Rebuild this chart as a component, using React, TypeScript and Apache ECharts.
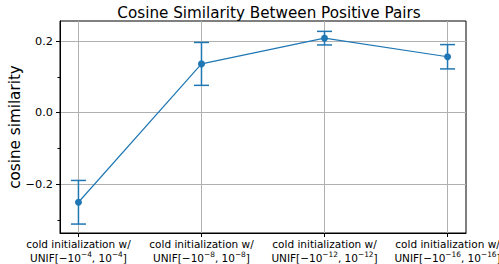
import React, { useEffect, useRef } from "react";
import * as echarts from "echarts";

const categories = [
  "cold initialization w/\n{n|UNIF[−10}{s|−4}{n|, 10}{s|−4}{n|]}",
  "cold initialization w/\n{n|UNIF[−10}{s|−8}{n|, 10}{s|−8}{n|]}",
  "cold initialization w/\n{n|UNIF[−10}{s|−12}{n|, 10}{s|−12}{n|]}",
  "cold initialization w/\n{n|UNIF[−10}{s|−16}{n|, 10}{s|−16}{n|]}",
];
const means = [-0.251, 0.136, 0.208, 0.156];
const errors = [0.061, 0.06, 0.019, 0.034];
const yTicks = [-0.2, 0, 0.2];
const yMinorTicks = [-0.3, -0.1, 0.1];

const BLUE = "#1f77b4";
const FONT = "DejaVu Sans";

export default function App() {
  const ref = useRef<HTMLDivElement>(null);
  useEffect(() => {
    if (!ref.current) return;
    const chart = echarts.init(ref.current, undefined, { renderer: "svg" });
    const xs = categories.map((_, i) => i);
    const option: any = {
      animation: false,
      backgroundColor: "#ffffff",
      title: {
        text: "Cosine Similarity Between Positive Pairs",
        left: 264,
        textAlign: "center",
        top: 0,
        textStyle: { fontFamily: FONT, fontSize: 15.2, fontWeight: "normal", color: "#000" },
      },
      grid: {
        left: 60,
        right: 33,
        top: 21,
        bottom: 31,
        show: true,
        borderColor: "#000",
        borderWidth: 1,
        backgroundColor: "transparent",
        outerBoundsMode: "none",
        containLabel: false,
      },
      xAxis: {
        type: "value",
        min: -0.15,
        max: 3.15,
        axisLine: { show: true, onZero: false, lineStyle: { color: "#000", width: 1 } },
        axisTick: { show: true, customValues: xs, length: 4, lineStyle: { color: "#000" } },
        splitLine: { show: true, lineStyle: { color: "#b0b0b0", width: 1 } },
        axisLabel: {
          customValues: xs,
          margin: 5,
          fontFamily: FONT,
          fontSize: 10.5,
          color: "#000",
          lineHeight: 12.5,
          align: "center",
          hideOverlap: false,
          formatter: (v: number) => categories[Math.round(v)] ?? "",
          rich: {
            n: { fontFamily: FONT, fontSize: 10.5, color: "#000", lineHeight: 12.5, verticalAlign: "bottom" },
            s: { fontFamily: FONT, fontSize: 7.4, color: "#000", lineHeight: 12.5, verticalAlign: "top", padding: [0, 0, 4, 0] },
          },
        },
      },
      yAxis: [
        {
          type: "value",
          min: -0.337,
          max: 0.256,
          name: "cosine similarity",
          nameLocation: "middle",
          nameGap: 38,
          nameMoveOverlap: false,
          nameTextStyle: { fontFamily: FONT, fontSize: 15.2, color: "#000" },
          axisLine: { show: true, onZero: false, lineStyle: { color: "#000", width: 1 } },
          axisTick: { show: true, customValues: yTicks, length: 4, lineStyle: { color: "#000" } },
          splitLine: { show: true, lineStyle: { color: "#b0b0b0", width: 1 } },
          axisLabel: {
            customValues: yTicks,
            margin: 7,
            fontFamily: FONT,
            fontSize: 11.3,
            color: "#000",
            formatter: (v: number) => (v < 0 ? "−" : "") + Math.abs(v).toFixed(1),
          },
        },
        {
          type: "value",
          position: "left",
          min: -0.337,
          max: 0.256,
          axisLine: { show: false, onZero: false },
          axisTick: { show: true, customValues: yMinorTicks, length: 2.5, lineStyle: { color: "#000" } },
          splitLine: { show: false },
          axisLabel: { show: false },
        },
      ],
      series: [
        {
          type: "custom",
          xAxisIndex: 0,
          yAxisIndex: 0,
          data: means.map((m, i) => [i, m - errors[i], m + errors[i]]),
          renderItem: (params: any, api: any) => {
            const x = api.value(0);
            const lo = api.coord([x, api.value(1)]);
            const hi = api.coord([x, api.value(2)]);
            const cap = 7.5;
            const style = { stroke: BLUE, lineWidth: 1.5 };
            return {
              type: "group",
              children: [
                { type: "line", shape: { x1: lo[0], y1: lo[1], x2: hi[0], y2: hi[1] }, style },
                { type: "line", shape: { x1: lo[0] - cap, y1: lo[1], x2: lo[0] + cap, y2: lo[1] }, style },
                { type: "line", shape: { x1: hi[0] - cap, y1: hi[1], x2: hi[0] + cap, y2: hi[1] }, style },
              ],
            };
          },
          z: 3,
        },
        {
          type: "line",
          xAxisIndex: 0,
          yAxisIndex: 0,
          data: means.map((m, i) => [i, m]),
          symbol: "circle",
          symbolSize: 7,
          itemStyle: { color: BLUE },
          lineStyle: { color: BLUE, width: 1.2 },
          z: 4,
        },
      ],
    };
    chart.setOption(option);
    return () => chart.dispose();
  }, []);
  return (
    <div
      ref={ref}
      style={{ position: "fixed", left: 0, top: 0, width: 499, height: 264, background: "#fff" }}
    />
  );
}
